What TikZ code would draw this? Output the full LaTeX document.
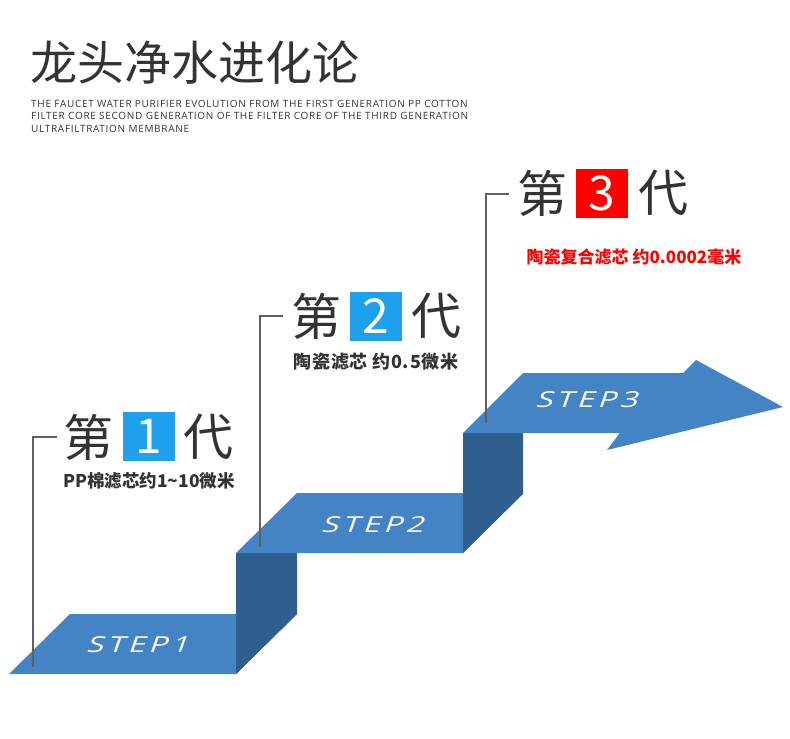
\documentclass[tikz,border=0pt]{standalone}
\usepackage{fontspec}
\newfontfamily\cjk{Noto Sans CJK SC}
\newfontfamily\cjksp[LetterSpace=4]{Noto Sans CJK SC}
\newfontfamily\engfont[LetterSpace=7]{Open Sans}
\newfontfamily\stepfont[FakeSlant=0.25,LetterSpace=12]{Open Sans}
\definecolor{facecol}{HTML}{4584C4}
\definecolor{risercol}{HTML}{2F5F8F}
\definecolor{boxblue}{HTML}{1EA0EC}
\definecolor{boxred}{HTML}{FF0000}
\definecolor{txtgray}{HTML}{333333}
\definecolor{linegray}{HTML}{606060}
\tikzset{
  face/.style={fill=facecol},
  riser/.style={fill=risercol},
  bigchar/.style={inner sep=0pt, text=txtgray, font=\cjk\fontsize{50}{50}\selectfont},
  numbox/.style={inner sep=0pt, minimum width=52pt, minimum height=49pt, text=white, font=\cjk\fontsize{48}{48}\selectfont},
  subtxt/.style={inner sep=0pt, text=txtgray, font=\cjk\bfseries\fontsize{17.5}{17.5}\selectfont},
  steplabel/.style={inner sep=0pt, text=white, font=\stepfont\fontsize{22}{22}\selectfont},
  engline/.style={inner sep=0pt, anchor=base west, text=txtgray, font=\engfont\fontsize{10}{10}\selectfont},
  connector/.style={draw=linegray, line width=2pt}
}
\begin{document}
\begin{tikzpicture}[x=1pt,y=-1pt]
\useasboundingbox (0,0) rectangle (790,739);
\fill[white] (0,0) rectangle (790,739);

% title
\node[inner sep=0pt, text=txtgray, font=\cjk\fontsize{47}{47}\selectfont] (title) at (195,62.5) {龙头净水进化论};
\node[engline] (sub1) at (31,107) {THE FAUCET WATER PURIFIER EVOLUTION FROM THE FIRST GENERATION PP COTTON};
\node[engline] (sub2) at (31,119.5) {FILTER CORE SECOND GENERATION OF THE FILTER CORE OF THE THIRD GENERATION};
\node[engline] (sub3) at (31,132) {ULTRAFILTRATION MEMBRANE};

% steps
\fill[face] (9,674) -- (236,674) -- (297,614) -- (70,614) -- cycle;
\fill[riser] (236,553) -- (297,553) -- (297,614) -- (236,674) -- cycle;
\fill[face] (236,553) -- (463,553) -- (523,493) -- (297,493) -- cycle;
\fill[riser] (463,433) -- (523,433) -- (523,494) -- (463,553) -- cycle;
\fill[face] (463,433) -- (620,433) -- (607,450) -- (783,407) -- (696,360) -- (683,373) -- (523,373) -- cycle;

\node[steplabel] (s1) at (137,645) {\scalebox{1.4}[1]{STEP1}};
\node[steplabel] (s2) at (372,525) {\scalebox{1.4}[1]{STEP2}};
\node[steplabel] (s3) at (586,400) {\scalebox{1.4}[1]{STEP3}};

% generation 1
\node[bigchar] (d1) at (88.5,437) {第};
\node[numbox, fill=boxblue] (n1) at (149,436.5) {1};
\node[bigchar] (g1) at (208,437) {代};
\node[subtxt] (t1) at (149,481) {PP棉滤芯约1\string~10微米};

% generation 2
\node[bigchar] (d2) at (316,316) {第};
\node[numbox, fill=boxblue] (n2) at (376,316) {2};
\node[bigchar] (g2) at (436,316) {代};
\node[subtxt, font=\cjksp\bfseries\fontsize{18}{18}\selectfont] (t2) at (376,362) {陶瓷滤芯 约0.5微米};

% generation 3
\node[bigchar] (d3) at (542,193) {第};
\node[numbox, fill=boxred] (n3) at (602,193) {3};
\node[bigchar] (g3) at (663,193) {代};
\node[subtxt, text=boxred, font=\cjk\bfseries\fontsize{17}{17}\selectfont] (t3) at (634,257) {陶瓷复合滤芯 约0.0002毫米};

% connectors
\coordinate (c1a) at (57,437);
\coordinate (c1b) at (33,437);
\coordinate (c1c) at (33,667);
\coordinate (c2a) at (283,316);
\coordinate (c2b) at (260,316);
\coordinate (c2c) at (260,547);
\coordinate (c3a) at (509,194);
\coordinate (c3b) at (486,194);
\coordinate (c3c) at (486,423);
\draw[connector] (c1a) -- (c1b) -- (c1c);
\draw[connector] (c2a) -- (c2b) -- (c2c);
\draw[connector] (c3a) -- (c3b) -- (c3c);
\end{tikzpicture}
\end{document}
